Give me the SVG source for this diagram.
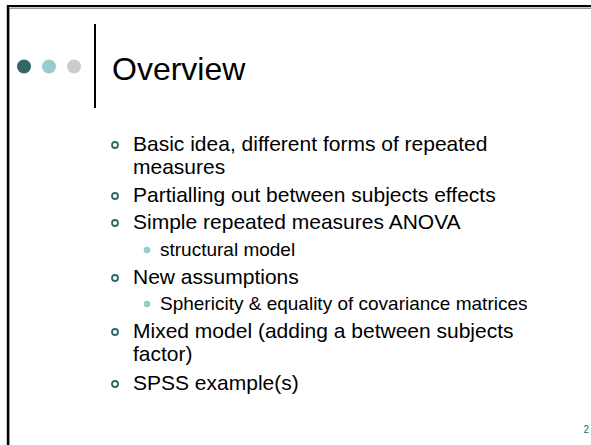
<svg xmlns="http://www.w3.org/2000/svg" width="591" height="445" viewBox="0 0 591 445">
  <style>
    .body { font-family: "Liberation Sans", Arial, sans-serif; fill: #000; }
    .l1 { font-size: 21px; }
    .l2 { font-size: 19px; }
    .title { font-family: "Liberation Sans", Arial, sans-serif; font-size: 32px; fill: #000; }
    .ring { fill: none; stroke: #336666; stroke-width: 1.8; }
    .dot { fill: #99cccc; }
  </style>
  <rect width="591" height="445" fill="#fff"/>

  <!-- slide frame: top and left edges with a soft inner shadow -->
  <g id="frame">
    <rect x="7" y="8" width="584" height="1" fill="#999"/>
    <rect x="9" y="8" width="1" height="437" fill="#999"/>
    <rect x="7" y="5" width="584" height="2.2" fill="#000"/>
    <rect x="6.8" y="5" width="2.2" height="440" fill="#000"/>
  </g>

  <!-- title bar: three dots, divider and heading -->
  <g id="header">
    <circle cx="24" cy="66.5" r="7" fill="#336666"/>
    <circle cx="49" cy="66.5" r="7" fill="#99cccc"/>
    <circle cx="74" cy="66.5" r="7" fill="#cccccc"/>
    <rect x="94" y="24" width="2" height="84" fill="#000"/>
    <text class="title" x="112" y="80">Overview</text>
  </g>

  <!-- bullet list -->
  <g id="list" class="body">
    <circle class="ring" cx="115" cy="145" r="3"/>
    <text class="l1" x="133" y="151">Basic idea, different forms of repeated</text>
    <text class="l1" x="133" y="174">measures</text>

    <circle class="ring" cx="115" cy="196" r="3"/>
    <text class="l1" x="133" y="202">Partialling out between subjects effects</text>

    <circle class="ring" cx="115" cy="223" r="3"/>
    <text class="l1" x="133" y="229">Simple repeated measures ANOVA</text>

    <circle class="dot" cx="147" cy="250" r="3.3"/>
    <text class="l2" x="160" y="256">structural model</text>

    <circle class="ring" cx="115" cy="278" r="3"/>
    <text class="l1" x="133" y="284">New assumptions</text>

    <circle class="dot" cx="147" cy="304" r="3.3"/>
    <text class="l2" x="160" y="310">Sphericity &amp; equality of covariance matrices</text>

    <circle class="ring" cx="115" cy="332" r="3"/>
    <text class="l1" x="133" y="338">Mixed model (adding a between subjects</text>
    <text class="l1" x="133" y="361">factor)</text>

    <circle class="ring" cx="115" cy="384" r="3"/>
    <text class="l1" x="133" y="390">SPSS example(s)</text>
  </g>

  <!-- page number -->
  <g id="page-number">
    <text x="589" y="433" text-anchor="end" font-family="Liberation Sans, Arial, sans-serif" font-size="10" fill="#336666">2</text>
  </g>
</svg>
